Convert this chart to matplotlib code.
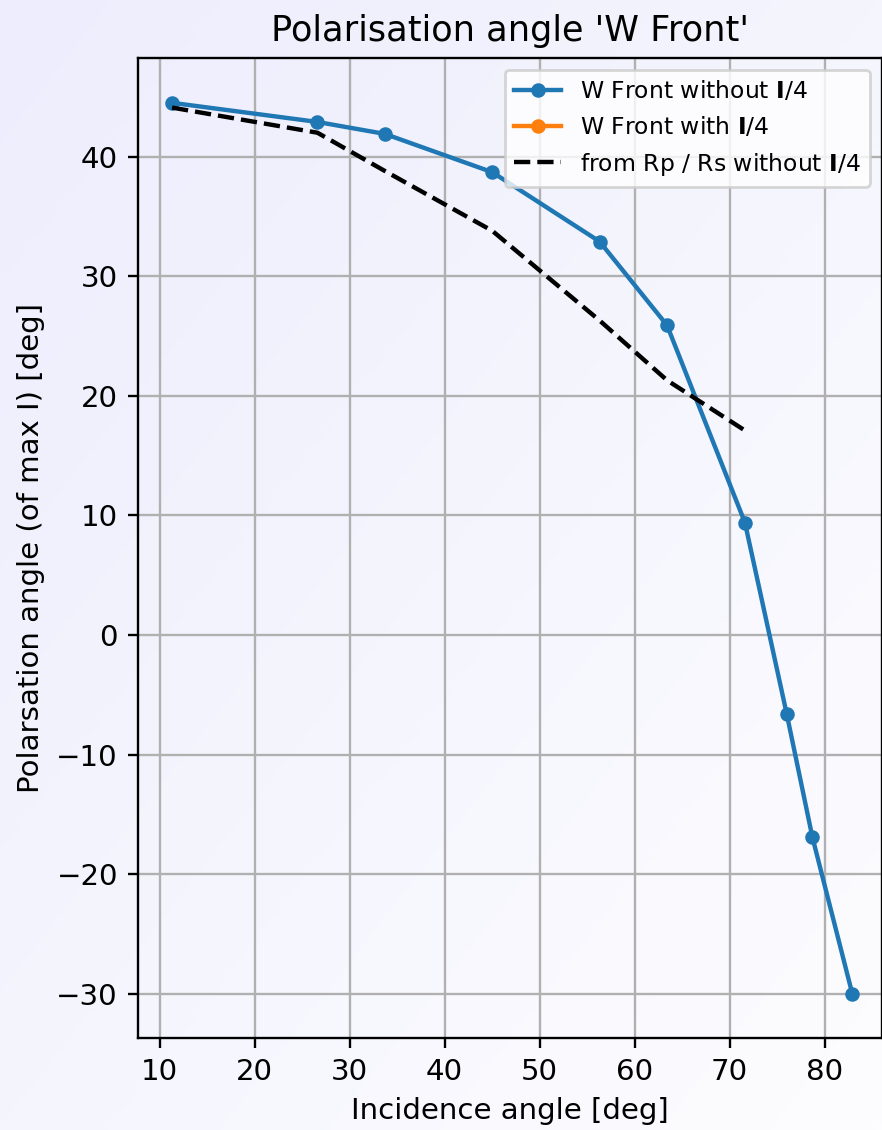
import numpy as np
import matplotlib
matplotlib.use("Agg")
import matplotlib.pyplot as plt

# incidence angles [deg]
incidence = [11.3, 26.6, 33.7, 45.0, 56.3, 63.4, 71.6, 76.0, 78.7, 82.9]
# measured polarisation angle, W Front without I/4
pol_without = [44.5, 42.9, 41.9, 38.7, 32.9, 25.9, 9.4, -6.6, -16.9, -30.0]
# W Front with I/4 (no data)
inc_with = []
pol_with = []
# from Rp / Rs without I/4
inc_rprs = [11.3, 26.6, 33.7, 45.0, 56.3, 63.4, 71.6]
pol_rprs = [44.1, 42.0, 38.8, 33.8, 26.3, 21.3, 17.1]

s = 1.055  # scale factor for text and lines
plt.rcParams.update({
    "font.size": 10 * s,
    "axes.titlesize": 12 * s,
    "lines.linewidth": 1.5 * s,
    "grid.linewidth": 0.8 * s,
    "axes.linewidth": 0.8 * s,
    "xtick.major.width": 0.8 * s,
    "ytick.major.width": 0.8 * s,
    "xtick.major.size": 3.5 * s,
    "ytick.major.size": 3.5 * s,
})

fig = plt.figure(figsize=(4.41, 5.65), dpi=200)

# gradient background
bg = fig.add_axes([0, 0, 1, 1], zorder=-10)
yy, xx = np.mgrid[0:1:200j, 0:1:200j]
t = np.clip((xx + yy) / 2, 0, 1)
c0 = np.array([237, 237, 253]) / 255
c1 = np.array([253, 253, 255]) / 255
img = c0[None, None, :] * (1 - t[..., None]) + c1[None, None, :] * t[..., None]
bg.imshow(img, extent=[0, 1, 0, 1], aspect="auto", origin="upper")
bg.axis("off")

ax = fig.add_axes([0.1565, 0.0814, 0.8432, 0.8673])
ax.patch.set_alpha(0)

bl = r"$\mathbf{I}$"
ax.plot(incidence, pol_without, "o-", color="#1f77b4", markersize=4 * s,
        label="W Front without " + bl + "/4")
ax.plot(inc_with, pol_with, "o-", color="#ff7f0e", markersize=4 * s,
        label="W Front with " + bl + "/4")
ax.plot(inc_rprs, pol_rprs, "--", color="black",
        label="from Rp / Rs without " + bl + "/4")

ax.set_xlim(7.72, 86.0)
ax.set_ylim(-33.7, 48.25)
ax.grid(True, color="#b0b0b0")
ax.set_title("Polarisation angle 'W Front'")
ax.set_xlabel("Incidence angle [deg]")
ax.set_ylabel("Polarsation angle (of max I) [deg]")
ax.legend(loc="upper right", fontsize=8 * s)

fig.savefig("out.png", dpi=200)
